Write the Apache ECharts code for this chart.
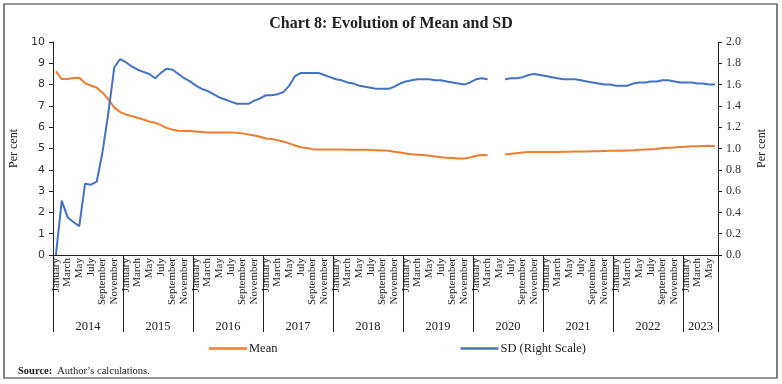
<!DOCTYPE html>
<html>
<head>
<meta charset="utf-8">
<script src="https://cdn.jsdelivr.net/npm/echarts@6/dist/echarts.min.js"></script>
<style>
html,body{margin:0;padding:0;background:#fff;}
#chart{width:782px;height:384px;}
</style>
</head>
<body>
<div id="chart"></div>
<script>
const titleText = 'Chart 8: Evolution of Mean and SD';
const years = ['2014','2015','2016','2017','2018','2019','2020','2021','2022','2023'];
const monthNames = ['January','February','March','April','May','June','July','August','September','October','November','December'];
const monthsInLastYear = 6;
const seriesNames = ['Mean', 'SD (Right Scale)'];

const meanValues = [
  8.62, 8.26, 8.26, 8.31, 8.32, 8.07, 7.96, 7.85, 7.62, 7.30, 6.93, 6.71,
  6.60, 6.52, 6.44, 6.36, 6.27, 6.21, 6.10, 5.97, 5.88, 5.83, 5.82, 5.82,
  5.80, 5.78, 5.75, 5.75, 5.75, 5.75, 5.75, 5.74, 5.71, 5.66, 5.61, 5.55,
  5.47, 5.45, 5.39, 5.33, 5.24, 5.14, 5.06, 5.02, 4.97, 4.95, 4.95, 4.95,
  4.95, 4.95, 4.94, 4.94, 4.94, 4.94, 4.93, 4.92, 4.91, 4.89, 4.85, 4.81,
  4.77, 4.73, 4.71, 4.69, 4.66, 4.62, 4.59, 4.56, 4.55, 4.53, 4.53, 4.58,
  4.66, 4.69, 4.68, null, null, 4.72, 4.75, 4.78, 4.81, 4.84, 4.84, 4.84,
  4.84, 4.84, 4.84, 4.85, 4.85, 4.86, 4.86, 4.86, 4.87, 4.87, 4.88, 4.89,
  4.89, 4.90, 4.91, 4.92, 4.94, 4.95, 4.97, 4.98, 5.02, 5.04, 5.05, 5.07,
  5.08, 5.10, 5.11, 5.12, 5.13, 5.11
];

const sdValues = [
  0.00, 0.51, 0.354, 0.31, 0.27, 0.67, 0.66, 0.69, 0.97, 1.34, 1.76, 1.84,
  1.81, 1.77, 1.74, 1.72, 1.70, 1.66, 1.71, 1.75, 1.74, 1.70, 1.66, 1.63,
  1.59, 1.56, 1.54, 1.51, 1.48, 1.46, 1.44, 1.42, 1.42, 1.42, 1.45, 1.47,
  1.50, 1.50, 1.51, 1.53, 1.59, 1.68, 1.71, 1.71, 1.71, 1.71, 1.69, 1.67,
  1.65, 1.64, 1.62, 1.61, 1.59, 1.58, 1.57, 1.56, 1.56, 1.56, 1.58, 1.61,
  1.63, 1.64, 1.65, 1.65, 1.65, 1.64, 1.64, 1.63, 1.62, 1.61, 1.60, 1.62,
  1.65, 1.66, 1.65, null, null, 1.65, 1.66, 1.66, 1.67, 1.69, 1.70, 1.69,
  1.68, 1.67, 1.66, 1.65, 1.65, 1.65, 1.64, 1.63, 1.62, 1.61, 1.60, 1.60,
  1.59, 1.59, 1.59, 1.61, 1.62, 1.62, 1.63, 1.63, 1.64, 1.64, 1.63, 1.62,
  1.62, 1.62, 1.61, 1.61, 1.60, 1.60
];

const leftTicks = {min: 0, max: 10, interval: 1};
const rightTicks = {min: 0, max: 2, interval: 0.2};

// categories built from the year and month lists
const categories = [];
years.forEach((y, yi) => {
  const n = yi === years.length - 1 ? monthsInLastYear : 12;
  for (let m = 0; m < n; m++) categories.push(y + '|' + monthNames[m]);
});
const total = categories.length;
const yearStarts = years.map((y, i) => i * 12);
const yearBounds = yearStarts.concat([total]);
const yearCenters = yearStarts.map((s, i) => (s + yearBounds[i + 1]) / 2);

const serif = '"Liberation Serif", "DejaVu Serif", serif';
const ORANGE = '#ED7D31', BLUE = '#4472C4';

const chart = echarts.init(document.getElementById('chart'), null, {renderer: 'canvas'});
chart.setOption({
  animation: false,
  backgroundColor: '#fff',
  title: [{
    text: titleText,
    left: 'center', top: 11,
    textStyle: {fontFamily: serif, fontWeight: 'bold', fontSize: 16, color: '#222'}
  }, {
    text: '{b|Source:} {r|Author\u2019s calculations.}',
    left: 13, top: 357,
    textStyle: {
      fontWeight: 'normal',
      rich: {
        b: {fontFamily: serif, fontWeight: 'bold', fontSize: 10.5, color: '#222'},
        r: {fontFamily: serif, fontWeight: 'normal', fontSize: 10.5, color: '#222'}
      }
    }
  }],
  graphic: [{
    type: 'rect', silent: true,
    shape: {x: 4, y: 4, width: 773, height: 374},
    style: {fill: 'none', stroke: '#333', lineWidth: 1.2}
  }],
  legend: {
    left: 204, top: 337,
    itemWidth: 38, itemHeight: 2.5, itemGap: 183,
    icon: 'rect',
    textStyle: {fontFamily: serif, fontSize: 12.5, color: '#222', padding: [0, 0, 0, -3]},
    data: seriesNames
  },
  grid: {left: 53, right: 64, top: 42, bottom: 129, containLabel: false},
  xAxis: [{
    type: 'category',
    data: categories,
    boundaryGap: true,
    axisLine: {lineStyle: {color: '#222', width: 1}},
    axisTick: {show: false},
    axisLabel: {
      interval: (index) => index % 2 === 0, rotate: 90, margin: 3,
      showMinLabel: true, showMaxLabel: true, hideOverlap: false,
      fontFamily: serif, fontSize: 11, color: '#222',
      formatter: v => v.split('|')[1]
    },
    splitLine: {show: false}
  }, {
    type: 'value',
    position: 'bottom',
    min: 0, max: total,
    axisLine: {show: false},
    splitLine: {show: false},
    axisTick: {show: true, length: 77, customValues: yearBounds, lineStyle: {color: '#222', width: 1}},
    axisLabel: {
      customValues: yearCenters, margin: 65,
      fontFamily: serif, fontSize: 12.5, color: '#222',
      formatter: v => years[Math.floor(v / 12)]
    }
  }],
  yAxis: [{
    type: 'value',
    min: leftTicks.min, max: leftTicks.max, interval: leftTicks.interval,
    name: 'Per cent', nameLocation: 'middle', nameGap: 28, nameRotate: 90,
    nameTextStyle: {fontFamily: serif, fontSize: 12, color: '#222'},
    axisLine: {show: true, lineStyle: {color: '#222'}},
    axisTick: {show: true, length: 4, lineStyle: {color: '#222'}},
    axisLabel: {margin: 8, fontFamily: '"DejaVu Sans", sans-serif', fontSize: 11, color: '#333'},
    splitLine: {show: false}
  }, {
    type: 'value',
    position: 'right',
    min: rightTicks.min, max: rightTicks.max, interval: rightTicks.interval,
    name: 'Per cent', nameLocation: 'middle', nameGap: 38, nameRotate: 90,
    nameTextStyle: {fontFamily: serif, fontSize: 12, color: '#222'},
    axisLine: {show: true, lineStyle: {color: '#222'}},
    axisTick: {show: true, length: 4, lineStyle: {color: '#222'}},
    axisLabel: {margin: 8, fontFamily: serif, fontSize: 12, color: '#333', formatter: v => v.toFixed(1)},
    splitLine: {show: false}
  }],
  series: [{
    name: seriesNames[0], type: 'line',
    xAxisIndex: 0, yAxisIndex: 0,
    data: meanValues,
    symbol: 'none', smooth: false, connectNulls: false,
    lineStyle: {color: ORANGE, width: 2},
    itemStyle: {color: ORANGE}
  }, {
    name: seriesNames[1], type: 'line',
    xAxisIndex: 0, yAxisIndex: 1,
    data: sdValues,
    symbol: 'none', smooth: false, connectNulls: false,
    lineStyle: {color: BLUE, width: 2},
    itemStyle: {color: BLUE}
  }]
});
</script>
</body>
</html>
